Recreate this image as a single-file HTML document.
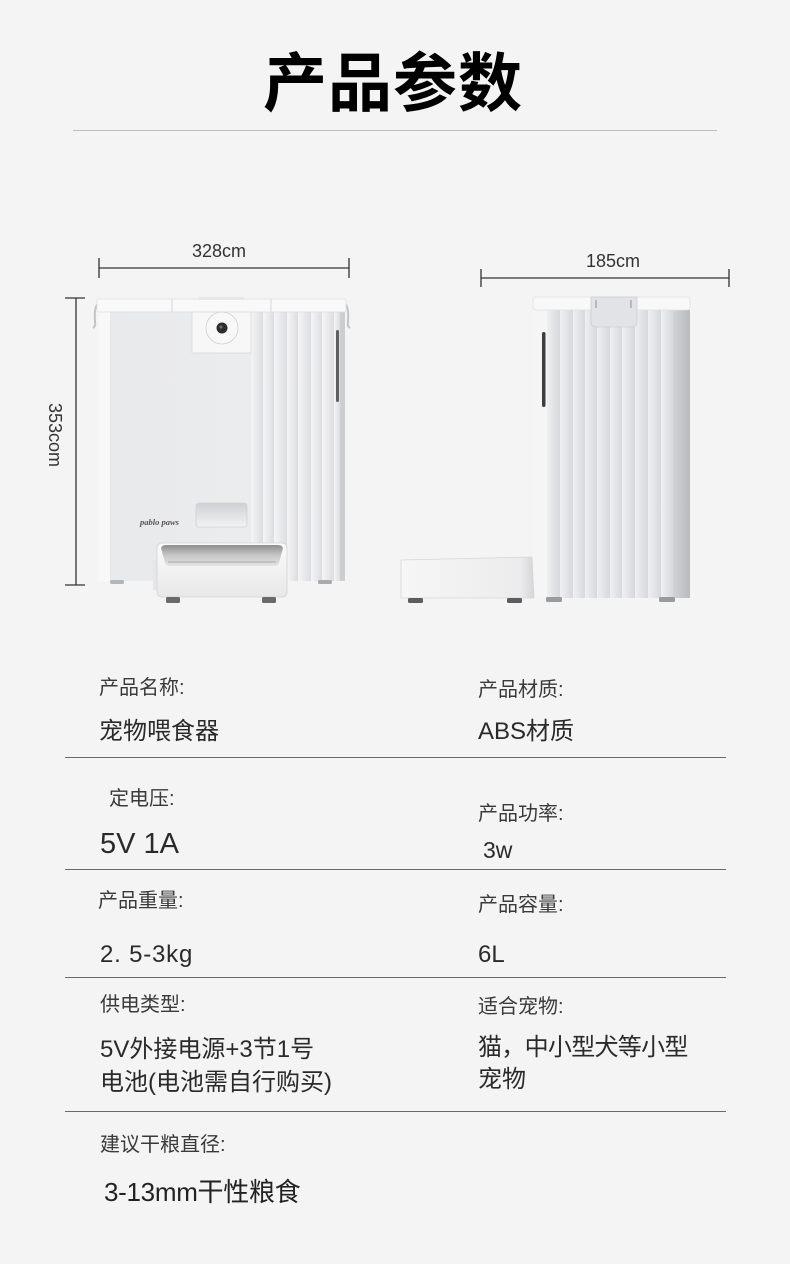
<!DOCTYPE html>
<html><head><meta charset="utf-8">
<style>
html,body{margin:0;padding:0;}
body{width:790px;height:1264px;background:#f4f4f4;position:relative;overflow:hidden;font-family:"Liberation Sans","Noto Sans CJK SC",sans-serif;color:#333;}
.t{position:absolute;white-space:nowrap;line-height:1;}
.lab{font-size:20px;color:#3a3a3a;}
.val{font-size:24px;color:#2a2a2a;}
.hr{position:absolute;left:65px;width:661px;height:1px;background:#6a6a6a;}
</style></head><body>

<div class="t" style="left:263px;top:47px;font-size:64px;font-weight:700;color:#000;font-family:'Noto Sans CJK SC',sans-serif;letter-spacing:1px;">产品参数</div>
<div style="position:absolute;left:73px;top:130px;width:644px;height:1px;background:#bdbdbd;"></div>

<svg width="790" height="640" style="position:absolute;left:0;top:0;" xmlns="http://www.w3.org/2000/svg">
<defs>
<linearGradient id="face" x1="0" x2="1" y1="0" y2="0">
<stop offset="0" stop-color="#e8e9eb"/><stop offset="1" stop-color="#edeef0"/>
</linearGradient>
<linearGradient id="str" x1="0" x2="1" y1="0" y2="0">
<stop offset="0" stop-color="#f5f5f6"/><stop offset="1" stop-color="#dcdde0"/>
</linearGradient>
<linearGradient id="strS" x1="0" x2="1" y1="0" y2="0">
<stop offset="0" stop-color="#eff0f1"/><stop offset="1" stop-color="#d7d8db"/>
</linearGradient>
<linearGradient id="edgeS" x1="0" x2="1" y1="0" y2="0">
<stop offset="0" stop-color="#d2d3d5"/><stop offset="1" stop-color="#b9babc"/>
</linearGradient>
<linearGradient id="steel" x1="0" x2="0" y1="0" y2="1">
<stop offset="0" stop-color="#8e8e8e"/><stop offset="0.5" stop-color="#c8c8c8"/><stop offset="1" stop-color="#e4e4e4"/>
</linearGradient>
<linearGradient id="chute" x1="0" x2="0" y1="0" y2="1">
<stop offset="0" stop-color="#cfd0d3"/><stop offset="1" stop-color="#f3f3f4"/>
</linearGradient>
<linearGradient id="bowlS" x1="0" x2="0" y1="0" y2="1">
<stop offset="0" stop-color="#fbfbfb"/><stop offset="1" stop-color="#e8e8e9"/>
</linearGradient>
<linearGradient id="bowlSide" x1="0" x2="1" y1="0" y2="0">
<stop offset="0" stop-color="#f6f6f7"/><stop offset="0.9" stop-color="#ececed"/><stop offset="1" stop-color="#d4d5d7"/>
</linearGradient>
</defs>

<!-- dimensions -->
<g stroke="#333" stroke-width="1.3">
<line x1="99" y1="268" x2="349" y2="268"/>
<line x1="99" y1="258" x2="99" y2="278"/>
<line x1="349" y1="258" x2="349" y2="278"/>
<line x1="76" y1="298" x2="76" y2="585"/>
<line x1="65" y1="298" x2="85" y2="298"/>
<line x1="65" y1="585" x2="85" y2="585"/>
<line x1="481" y1="278" x2="729" y2="278"/>
<line x1="481" y1="269" x2="481" y2="287"/>
<line x1="729" y1="269" x2="729" y2="287"/>
</g>
<text x="219" y="257" font-size="18" fill="#333" text-anchor="middle" font-family="Liberation Sans, sans-serif">328cm</text>
<text x="613" y="267" font-size="18" fill="#333" text-anchor="middle" font-family="Liberation Sans, sans-serif">185cm</text>
<text x="0" y="0" font-size="18" fill="#333" text-anchor="middle" font-family="Liberation Sans, sans-serif" transform="translate(49,435) rotate(90)">353com</text>

<!-- FRONT PRODUCT -->
<path d="M98 304 Q94 306 95 322 Q96 326 93 328" stroke="#c2c3c5" stroke-width="2" fill="none"/>
<path d="M345 304 Q349 306 348 322 Q347 326 350 328" stroke="#c2c3c5" stroke-width="2" fill="none"/>
<rect x="99" y="310" width="246" height="271" fill="url(#face)"/>
<rect x="99" y="310" width="11" height="271" fill="#f8f8f9"/>
<g fill="url(#str)">
<rect x="251" y="312" width="12" height="269"/>
<rect x="263" y="312" width="11" height="269"/>
<rect x="274" y="312" width="13" height="269"/>
<rect x="287" y="312" width="11" height="269"/>
<rect x="298" y="312" width="13" height="269"/>
<rect x="311" y="312" width="11" height="269"/>
<rect x="322" y="312" width="12" height="269"/>
<rect x="334" y="312" width="6" height="269"/>
</g>
<rect x="340" y="312" width="5" height="269" fill="#cdced0"/>
<rect x="336" y="330" width="3" height="72" rx="1.5" fill="#5f5f61"/>
<!-- lid -->
<rect x="97" y="299" width="249" height="13" rx="2" fill="#f9f9fa" stroke="#dcdde0" stroke-width="0.8"/>
<line x1="172" y1="299" x2="172" y2="312" stroke="#d6d7da" stroke-width="1"/>
<line x1="271" y1="299" x2="271" y2="312" stroke="#d6d7da" stroke-width="1"/>
<rect x="199" y="297" width="45" height="3" fill="#e8e8ea"/>
<!-- camera panel -->
<rect x="192" y="312" width="59" height="41" fill="#f7f7f8" stroke="#d8d9dc" stroke-width="0.8"/>
<circle cx="222" cy="328" r="16" fill="#f8f8f9" stroke="#cfd0d3" stroke-width="0.8"/>
<circle cx="222" cy="328" r="5.5" fill="#2b2b2d"/>
<circle cx="221" cy="327" r="1.6" fill="#6a6a6c"/>
<!-- chute -->
<rect x="196" y="503" width="51" height="24" rx="3" fill="url(#chute)" stroke="#d0d1d4" stroke-width="0.8"/>
<text x="140" y="525" font-size="8.5" font-style="italic" font-weight="700" fill="#555" font-family="Liberation Serif, serif">pablo paws</text>
<rect x="110" y="580" width="14" height="4" rx="1.5" fill="#b4b5b7"/>
<rect x="318" y="580" width="14" height="4" rx="1.5" fill="#a9aaac"/>
<!-- bowl -->
<rect x="153" y="560" width="8" height="30" fill="#e6e6e8"/>
<rect x="157" y="543" width="130" height="54" rx="5" fill="url(#bowlS)" stroke="#d3d3d5" stroke-width="0.8"/>
<path d="M161 548 Q162 545 166 545 L278 545 Q282 545 283 548 L279 563 Q278 566 274 566 L170 566 Q166 566 165 563 Z" fill="url(#steel)"/>
<path d="M168 562 L276 562" stroke="#a9a9aa" stroke-width="1"/>
<rect x="166" y="597" width="14" height="6" rx="1.5" fill="#6a6a6b"/>
<rect x="262" y="597" width="14" height="6" rx="1.5" fill="#6a6a6b"/>

<!-- SIDE PRODUCT -->
<rect x="533" y="308" width="157" height="290" fill="#f5f5f6"/>
<g fill="url(#strS)">
<rect x="547" y="310" width="13" height="288"/>
<rect x="560" y="310" width="13" height="288"/>
<rect x="573" y="310" width="12" height="288"/>
<rect x="585" y="310" width="12" height="288"/>
<rect x="597" y="310" width="13" height="288"/>
<rect x="610" y="310" width="12" height="288"/>
<rect x="622" y="310" width="13" height="288"/>
<rect x="635" y="310" width="13" height="288"/>
<rect x="648" y="310" width="13" height="288"/>
<rect x="661" y="310" width="12" height="288"/>
</g>
<rect x="673" y="310" width="17" height="288" fill="url(#edgeS)"/>
<rect x="542" y="332" width="3.5" height="75" rx="1.7" fill="#3e3e40"/>
<rect x="533" y="297" width="157" height="13" rx="3" fill="#f8f8f9" stroke="#dfe0e2" stroke-width="0.8"/>
<path d="M591 297 L637 297 L637 322 Q637 327 632 327 L596 327 Q591 327 591 322 Z" fill="#e2e3e6" stroke="#cdced1" stroke-width="0.8"/>
<line x1="596" y1="300" x2="596" y2="308" stroke="#8f8f91" stroke-width="1"/>
<line x1="631" y1="300" x2="631" y2="308" stroke="#8f8f91" stroke-width="1"/>
<rect x="546" y="597" width="16" height="5" rx="1.5" fill="#9a9b9d"/>
<rect x="659" y="597" width="16" height="5" rx="1.5" fill="#9a9b9d"/>
<!-- side bowl -->
<path d="M401 560 L532 557 L534 598 L401 598 Z" fill="url(#bowlSide)" stroke="#d6d6d8" stroke-width="0.8"/>
<rect x="408" y="598" width="15" height="5" rx="1.5" fill="#5d5d5f"/>
<rect x="507" y="598" width="15" height="5" rx="1.5" fill="#5d5d5f"/>
</svg>

<!-- specs -->
<div class="t lab" style="left:99px;top:678px;">产品名称:</div>
<div class="t lab" style="left:478px;top:680px;">产品材质:</div>
<div class="t val" style="left:99px;top:720px;">宠物喂食器</div>
<div class="t val" style="left:478px;top:720px;">ABS材质</div>
<div class="hr" style="top:757px;"></div>

<div class="t lab" style="left:109px;top:789px;">定电压:</div>
<div class="t lab" style="left:478px;top:804px;">产品功率:</div>
<div class="t" style="left:100px;top:830px;font-size:29px;color:#2a2a2a;">5V 1A</div>
<div class="t" style="left:483px;top:839px;font-size:23px;color:#2a2a2a;">3w</div>
<div class="hr" style="top:869px;"></div>

<div class="t lab" style="left:98px;top:891px;">产品重量:</div>
<div class="t lab" style="left:478px;top:895px;">产品容量:</div>
<div class="t val" style="left:100px;top:943px;letter-spacing:0.8px;">2. 5-3kg</div>
<div class="t val" style="left:478px;top:943px;">6L</div>
<div class="hr" style="top:977px;"></div>

<div class="t lab" style="left:100px;top:995px;">供电类型:</div>
<div class="t lab" style="left:478px;top:997px;">适合宠物:</div>
<div class="t val" style="left:100px;top:1038px;">5V外接电源+3节1号</div>
<div class="t val" style="left:100px;top:1071px;">电池(电池需自行购买)</div>
<div class="t val" style="left:478px;top:1036px;letter-spacing:-0.7px;">猫，中小型犬等小型</div>
<div class="t val" style="left:478px;top:1068px;">宠物</div>
<div class="hr" style="top:1111px;"></div>

<div class="t lab" style="left:100px;top:1135px;">建议干粮直径:</div>
<div class="t" style="left:104px;top:1179px;font-size:26px;color:#222;letter-spacing:-0.3px;">3-13mm干性粮食</div>

</body></html>
